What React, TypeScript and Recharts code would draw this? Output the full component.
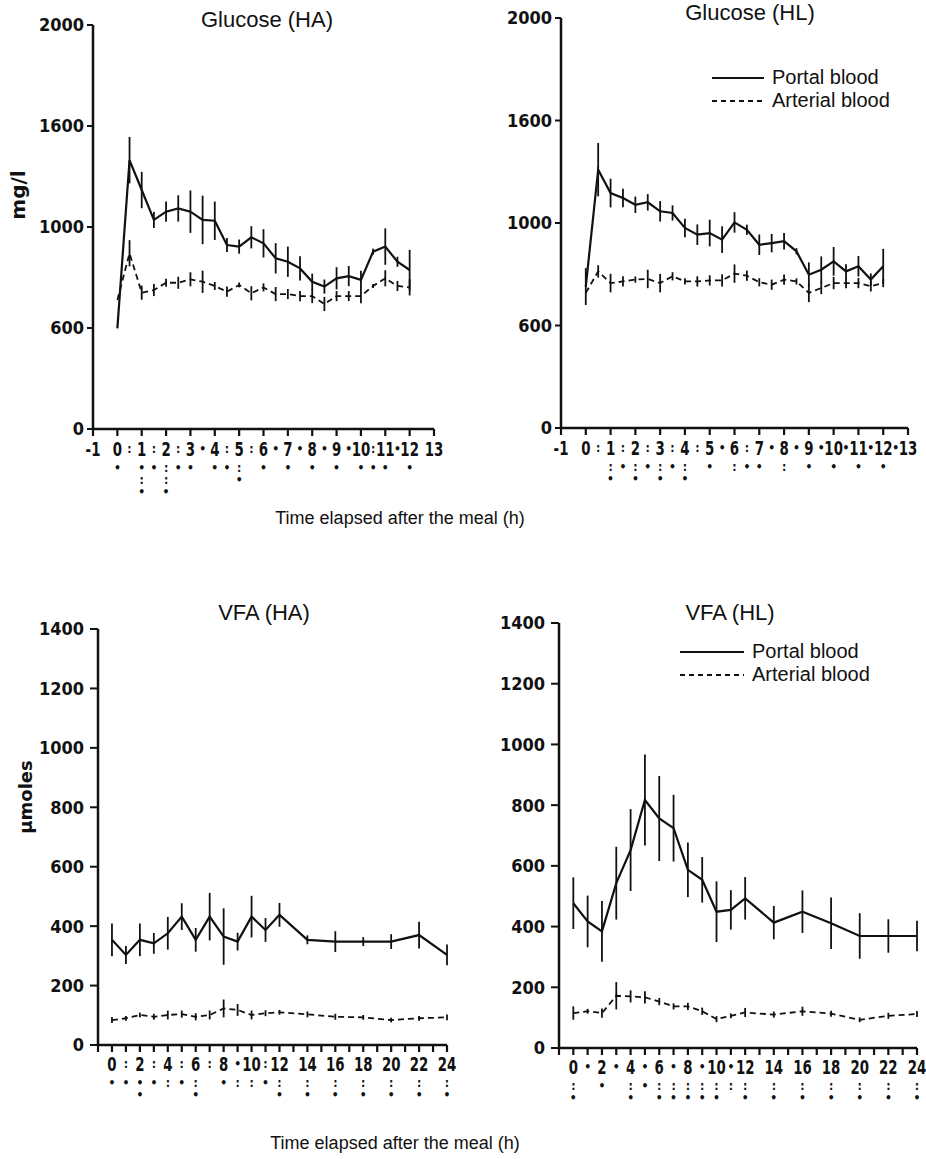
import React from "react";
import { LineChart, Line, XAxis, YAxis, ErrorBar, Legend } from "recharts";

const INK = "#111";
const NUM_FONT = "'DejaVu Sans Condensed', 'DejaVu Sans', sans-serif";
const TEXT_FONT = "'Liberation Sans', Arial, sans-serif";

// ---- glucose, sampled every half hour (h) ----
const GLU_TIMES = [0, 0.5, 1, 1.5, 2, 2.5, 3, 3.5, 4, 4.5, 5, 5.5, 6, 6.5, 7, 7.5, 8, 8.5, 9, 9.5, 10, 10.5, 11, 11.5, 12];

const GLU_HA_PORTAL = [498, 1331, 1183, 1035, 1076, 1092, 1076, 1035, 1031, 911, 903, 949, 919, 845, 828, 795, 729, 705, 746, 757, 738, 878, 903, 828, 787];
const GLU_HA_PORTAL_SE = [0, 115, 90, 40, 50, 65, 105, 120, 95, 35, 35, 55, 70, 75, 75, 60, 40, 35, 55, 50, 45, 15, 90, 25, 100];
const GLU_HA_ARTERIAL = [639, 870, 675, 688, 724, 724, 741, 729, 708, 680, 713, 672, 701, 668, 668, 658, 658, 619, 658, 658, 658, 708, 746, 708, 701];
const GLU_HA_ARTERIAL_SE = [0, 65, 35, 30, 20, 30, 35, 55, 20, 25, 12, 35, 20, 35, 25, 25, 35, 35, 25, 25, 35, 10, 40, 25, 40];

const GLU_HL_PORTAL = [690, 1260, 1146, 1122, 1089, 1101, 1057, 1049, 976, 943, 951, 919, 1003, 967, 894, 902, 911, 862, 748, 772, 813, 764, 789, 724, 789];
const GLU_HL_PORTAL_SE = [90, 130, 70, 45, 40, 40, 50, 37, 45, 50, 65, 65, 50, 25, 50, 45, 40, 15, 60, 65, 70, 35, 50, 30, 85];
const GLU_HL_ARTERIAL = [659, 764, 707, 715, 724, 727, 707, 740, 715, 715, 720, 720, 753, 743, 711, 699, 724, 715, 659, 683, 707, 707, 707, 691, 707];
const GLU_HL_ARTERIAL_SE = [0, 30, 45, 25, 15, 45, 45, 20, 15, 25, 25, 30, 45, 25, 20, 25, 25, 15, 45, 30, 30, 25, 25, 25, 20];

const GLU_X_TICKS = [-1, -0.5, 0, 0.5, 1, 1.5, 2, 2.5, 3, 3.5, 4, 4.5, 5, 5.5, 6, 6.5, 7, 7.5, 8, 8.5, 9, 9.5, 10, 10.5, 11, 11.5, 12, 12.5, 13];
const GLU_X_LABELS = ["-1", "0", "1", "2", "3", "4", "5", "6", "7", "8", "9", "10", "11", "12", "13"];
const GLU_Y_TICKS = [0, 500, 1000, 1500, 2000];
const GLU_Y_LABELS = ["0", "600", "1000", "1600", "2000"];

// significance marks under the time axis: first entry sits in the label row, the rest stack below
const GLU_HA_MARKS: [number, string[]][] = [
  [0, ["", "•"]], [0.5, [":"]], [1, ["", "•", ":", "•"]], [1.5, [":", "•"]],
  [2, ["", ":", ":", "•"]], [2.5, [":", "•"]], [3, ["", "•"]], [3.5, ["•"]],
  [4, ["", "•"]], [4.5, [":", "•"]], [5, ["", ":", "•"]], [5.5, [":"]],
  [6, ["", "•"]], [6.5, ["•"]], [7, ["", "•"]], [7.5, ["•"]], [8, ["", "•"]],
  [8.5, ["•"]], [9, ["", "•"]], [9.5, ["•"]], [10, ["", "•"]], [10.5, [":", "•"]],
  [11, ["", "•"]], [11.5, ["•"]], [12, ["", "•"]],
];
const GLU_HL_MARKS: [number, string[]][] = [
  [0.5, [":"]], [1, ["", ":", "•"]], [1.5, [":", "•"]], [2, ["", ":", "•"]],
  [2.5, [":", "•"]], [3, ["", ":", "•"]], [3.5, [":", "•"]], [4, ["", ":", "•"]],
  [4.5, [":"]], [5, ["", "•"]], [5.5, ["•"]], [6, ["", ":"]], [6.5, [":", "•"]],
  [7, ["", "•"]], [7.5, ["•"]], [8, ["", ":"]], [8.5, ["•"]], [9, ["", "•"]],
  [9.5, ["•"]], [10, ["", "•"]], [10.5, ["•"]], [11, ["", "•"]], [11.5, ["•"]],
  [12, ["", "•"]], [12.5, ["•"]],
];

// ---- VFA, hourly then every two hours ----
const VFA_TIMES = [0, 1, 2, 3, 4, 5, 6, 7, 8, 9, 10, 11, 12, 14, 16, 18, 20, 22, 24];

const VFA_HA_PORTAL = [354, 303, 354, 342, 376, 432, 354, 432, 365, 348, 432, 387, 438, 354, 348, 348, 348, 370, 303];
const VFA_HA_PORTAL_SE = [55, 30, 55, 35, 55, 45, 40, 80, 95, 30, 70, 40, 40, 15, 35, 15, 25, 45, 35];
const VFA_HA_ARTERIAL = [84, 90, 101, 95, 101, 104, 95, 101, 123, 118, 101, 107, 110, 103, 95, 93, 84, 90, 93];
const VFA_HA_ARTERIAL_SE = [10, 8, 8, 10, 15, 12, 12, 15, 30, 20, 15, 10, 8, 10, 10, 8, 8, 8, 10];

const VFA_HL_PORTAL = [477, 417, 384, 543, 652, 817, 756, 724, 587, 554, 449, 455, 493, 413, 449, 411, 369, 369, 369];
const VFA_HL_PORTAL_SE = [85, 85, 100, 120, 135, 150, 140, 110, 90, 75, 100, 65, 70, 55, 70, 85, 75, 55, 50];
const VFA_HL_ARTERIAL = [115, 121, 115, 172, 170, 167, 153, 137, 137, 121, 95, 106, 117, 110, 121, 113, 93, 106, 112];
const VFA_HL_ARTERIAL_SE = [22, 8, 15, 45, 20, 20, 12, 10, 12, 12, 10, 8, 15, 10, 15, 10, 8, 10, 10];

const VFA_X_TICKS = [-1, 0, 1, 2, 3, 4, 5, 6, 7, 8, 9, 10, 11, 12, 13, 14, 15, 16, 17, 18, 19, 20, 21, 22, 23, 24];
const VFA_X_LABELS = ["0", "2", "4", "6", "8", "10", "12", "14", "16", "18", "20", "22", "24"];
const VFA_Y_TICKS = [0, 200, 400, 600, 800, 1000, 1200, 1400];

const VFA_HA_MARKS: [number, string[]][] = [
  [0, ["", "•"]], [1, [":", "•"]], [2, ["", "•", "•"]], [3, [":", "•"]], [4, ["", ":"]],
  [5, [":", "•"]], [6, ["", ":", "•"]], [7, [":"]], [8, ["", "•"]], [9, ["•", ":"]],
  [10, ["", ":"]], [11, [":", "•"]], [12, ["", ":", "•"]], [14, ["", ":", "•"]],
  [16, ["", ":", "•"]], [18, ["", ":", "•"]], [20, ["", ":", "•"]], [22, ["", ":", "•"]],
  [24, ["", ":", "•"]],
];
const VFA_HL_MARKS: [number, string[]][] = [
  [0, ["", ":", "•"]], [1, ["•"]], [2, ["", "•"]], [3, ["•"]], [4, ["", ":", "•"]],
  [5, ["•", "•"]], [6, ["", ":", "•"]], [7, ["•", ":", "•"]], [8, ["", ":", "•"]],
  [9, ["•", ":", "•"]], [10, ["", ":", "•"]], [11, ["•", ":"]], [12, ["", ":", "•"]],
  [14, ["", ":", "•"]], [16, ["", ":", "•"]], [18, ["", ":", "•"]], [20, ["", ":", "•"]],
  [22, ["", ":", "•"]], [24, ["", ":", "•"]],
];

const LEGEND_ITEMS = [
  { name: "Portal blood", dash: undefined as string | undefined },
  { name: "Arterial blood", dash: "5 4" },
];

type Row = { t: number; p: number; pe: number; a: number; ae: number };

function buildRows(times: number[], p: number[], pe: number[], a: number[], ae: number[]): Row[] {
  return times.map((t, i) => ({ t, p: p[i], pe: pe[i], a: a[i], ae: ae[i] }));
}

// tick: short downward mark on whole hours, narrow bold number, then stacked significance marks
function makeXTick(labelAt: (v: number) => string | undefined, marks: [number, string[]][], labelDy: number) {
  const markMap = new Map(marks);
  return (props: any) => {
    const { x, y, payload } = props;
    const v = payload.value as number;
    const label = labelAt(v);
    const rows = markMap.get(v) || [];
    const inline = rows[0];
    const below = rows.slice(1);
    return (
      <g>
        {Number.isInteger(v) && <line x1={x} x2={x} y1={y} y2={y + 7} stroke={INK} strokeWidth={2.2} />}
        {label && (
          <text
            transform={`translate(${x},${y + labelDy}) scale(0.78,1)`}
            textAnchor="middle"
            fontFamily={NUM_FONT}
            fontWeight="bold"
            fontSize={19}
            fill={INK}
          >
            {label}
          </text>
        )}
        {inline && (
          <text x={x} y={y + labelDy - 3} textAnchor="middle" fontFamily={NUM_FONT} fontWeight="bold" fontSize={12} fill={INK}>
            {inline}
          </text>
        )}
        {below.length > 0 && (
          <text x={x} y={y + labelDy + 4} textAnchor="middle" fontFamily={NUM_FONT} fontWeight="bold" fontSize={12} fill={INK}>
            {below.map((r, i) => (
              <tspan key={i} x={x} dy={12}>
                {r || " "}
              </tspan>
            ))}
          </text>
        )}
      </g>
    );
  };
}

function LegendBox({ sample }: { sample: number }) {
  return (
    <div style={{ fontFamily: TEXT_FONT, fontSize: 20, color: INK, lineHeight: "23px" }}>
      {LEGEND_ITEMS.map((it) => (
        <div key={it.name} style={{ display: "flex", alignItems: "center" }}>
          <svg width={sample} height={10} style={{ marginRight: 8 }}>
            <line x1={0} x2={sample} y1={5} y2={5} stroke={INK} strokeWidth={2.2} strokeDasharray={it.dash} />
          </svg>
          <span>{it.name}</span>
        </div>
      ))}
    </div>
  );
}

interface PanelProps {
  left: number;
  top: number;
  width: number;
  height: number;
  margin: { top: number; right: number; bottom: number; left: number };
  yAxisWidth: number;
  xAxisHeight: number;
  data: Row[];
  xDomain: [number, number];
  xTicks: number[];
  xTick: (props: any) => React.ReactElement;
  yDomain: [number, number];
  yTicks: number[];
  yFormat?: (v: number, i: number) => string;
  yTickSize: number;
  yTickMargin: number;
  legend?: { left: number; top: number; sample: number };
}

function Panel(p: PanelProps) {
  return (
    <div style={{ position: "absolute", left: p.left, top: p.top }}>
      <LineChart width={p.width} height={p.height} data={p.data} margin={p.margin}>
        <XAxis
          dataKey="t"
          type="number"
          domain={p.xDomain}
          ticks={p.xTicks}
          interval={0}
          tick={p.xTick}
          tickLine={false}
          tickSize={0}
          tickMargin={0}
          height={p.xAxisHeight}
          axisLine={{ stroke: INK, strokeWidth: 2.5 }}
          allowDecimals
        />
        <YAxis
          type="number"
          domain={p.yDomain}
          ticks={p.yTicks}
          interval={0}
          width={p.yAxisWidth}
          tickFormatter={p.yFormat}
          tickSize={p.yTickSize}
          tickMargin={p.yTickMargin}
          tickLine={{ stroke: INK, strokeWidth: 2 }}
          axisLine={{ stroke: INK, strokeWidth: 2.5 }}
          tick={{ fontFamily: NUM_FONT, fontWeight: "bold", fontSize: 18, fill: INK, style: { fontStretch: "condensed" } }}
        />
        {p.legend && (
          <Legend
            layout="vertical"
            align="center"
            verticalAlign="middle"
            content={() => <LegendBox sample={p.legend!.sample} />}
            wrapperStyle={{ position: "absolute", left: p.legend.left, top: p.legend.top, width: "auto" }}
          />
        )}
        <Line type="linear" dataKey="p" name="Portal blood" stroke={INK} strokeWidth={2.2} dot={false} isAnimationActive={false}>
          <ErrorBar dataKey="pe" width={0} stroke={INK} strokeWidth={1.8} direction="y" isAnimationActive={false} />
        </Line>
        <Line type="linear" dataKey="a" name="Arterial blood" stroke={INK} strokeWidth={1.8} strokeDasharray="6 4" dot={false} isAnimationActive={false}>
          <ErrorBar dataKey="ae" width={0} stroke={INK} strokeWidth={1.8} direction="y" isAnimationActive={false} />
        </Line>
      </LineChart>
    </div>
  );
}

const gluLabel = (v: number) => (Number.isInteger(v) ? GLU_X_LABELS[v + 1] : undefined);
const vfaLabel = (v: number) => (v >= 0 && v % 2 === 0 ? VFA_X_LABELS[v / 2] : undefined);

const Title = ({ x, y, children }: { x: number; y: number; children: React.ReactNode }) => (
  <div style={{ position: "absolute", left: x, top: y, transform: "translate(-50%, -50%)", fontFamily: TEXT_FONT, fontSize: 22, color: INK, whiteSpace: "nowrap" }}>
    {children}
  </div>
);

const AxisName = ({ x, y, size, children }: { x: number; y: number; size: number; children: React.ReactNode }) => (
  <div style={{ position: "absolute", left: x, top: y, transform: "translate(-50%, -50%) rotate(-90deg)", fontFamily: "'DejaVu Sans', sans-serif", fontWeight: "bold", fontSize: size, color: INK, whiteSpace: "nowrap" }}>
    {children}
  </div>
);

const XName = ({ x, y }: { x: number; y: number }) => (
  <div style={{ position: "absolute", left: x, top: y, transform: "translate(-50%, -50%)", fontFamily: TEXT_FONT, fontSize: 18, color: INK, whiteSpace: "nowrap" }}>
    Time elapsed after the meal (h)
  </div>
);

export default function App() {
  const gluHA = buildRows(GLU_TIMES, GLU_HA_PORTAL, GLU_HA_PORTAL_SE, GLU_HA_ARTERIAL, GLU_HA_ARTERIAL_SE);
  const gluHL = buildRows(GLU_TIMES, GLU_HL_PORTAL, GLU_HL_PORTAL_SE, GLU_HL_ARTERIAL, GLU_HL_ARTERIAL_SE);
  const vfaHA = buildRows(VFA_TIMES, VFA_HA_PORTAL, VFA_HA_PORTAL_SE, VFA_HA_ARTERIAL, VFA_HA_ARTERIAL_SE);
  const vfaHL = buildRows(VFA_TIMES, VFA_HL_PORTAL, VFA_HL_PORTAL_SE, VFA_HL_ARTERIAL, VFA_HL_ARTERIAL_SE);
  const gluFmt = (_v: number, i: number) => GLU_Y_LABELS[i];

  return (
    <div style={{ position: "absolute", left: 0, top: 0, width: 926, height: 1159, background: "#fff", overflow: "hidden" }}>
      <Panel
        left={0} top={0} width={470} height={520}
        margin={{ top: 25, right: 36, bottom: 31, left: 0 }}
        yAxisWidth={93} xAxisHeight={60}
        data={gluHA} xDomain={[-1, 13]} xTicks={GLU_X_TICKS}
        xTick={makeXTick(gluLabel, GLU_HA_MARKS, 27)}
        yDomain={[0, 2000]} yTicks={GLU_Y_TICKS} yFormat={gluFmt} yTickSize={6} yTickMargin={3}
      />
      <Panel
        left={460} top={0} width={466} height={520}
        margin={{ top: 18, right: 18, bottom: 32, left: 0 }}
        yAxisWidth={101} xAxisHeight={60}
        data={gluHL} xDomain={[-1, 13]} xTicks={GLU_X_TICKS}
        xTick={makeXTick(gluLabel, GLU_HL_MARKS, 27)}
        yDomain={[0, 2000]} yTicks={GLU_Y_TICKS} yFormat={gluFmt} yTickSize={6} yTickMargin={3}
        legend={{ left: 252, top: 66, sample: 52 }}
      />
      <Panel
        left={0} top={580} width={470} height={540}
        margin={{ top: 49, right: 23, bottom: 25, left: 0 }}
        yAxisWidth={98} xAxisHeight={50}
        data={vfaHA} xDomain={[-1, 24]} xTicks={VFA_X_TICKS}
        xTick={makeXTick(vfaLabel, VFA_HA_MARKS, 26)}
        yDomain={[0, 1400]} yTicks={VFA_Y_TICKS} yTickSize={8} yTickMargin={6}
      />
      <Panel
        left={460} top={580} width={466} height={540}
        margin={{ top: 43, right: 9, bottom: 22, left: 0 }}
        yAxisWidth={99} xAxisHeight={50}
        data={vfaHL} xDomain={[-1, 24]} xTicks={VFA_X_TICKS}
        xTick={makeXTick(vfaLabel, VFA_HL_MARKS, 26)}
        yDomain={[0, 1400]} yTicks={VFA_Y_TICKS} yTickSize={8} yTickMargin={6}
        legend={{ left: 220, top: 60, sample: 64 }}
      />

      <Title x={267} y={20}>Glucose (HA)</Title>
      <Title x={750} y={13}>Glucose (HL)</Title>
      <Title x={264} y={613}>VFA (HA)</Title>
      <Title x={730} y={613}>VFA (HL)</Title>

      <AxisName x={18} y={195} size={20}>mg/l</AxisName>
      <AxisName x={25} y={797} size={18}>µmoles</AxisName>

      <XName x={400} y={518} />
      <XName x={395} y={1143} />
    </div>
  );
}
